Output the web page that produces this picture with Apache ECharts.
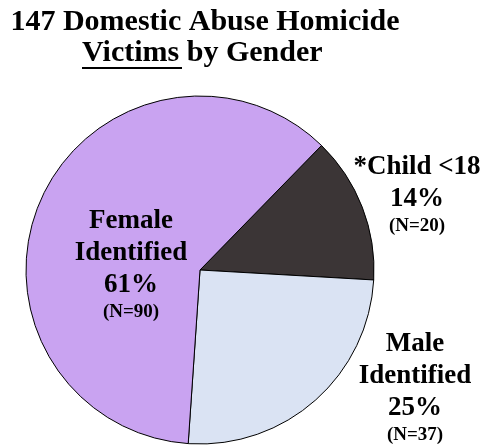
<!DOCTYPE html>
<html>
<head>
<meta charset="utf-8">
<script src="https://cdn.jsdelivr.net/npm/echarts@6/dist/echarts.min.js"></script>
<style>html,body{margin:0;padding:0;background:#fff}#c{width:490px;height:447px}</style>
</head>
<body>
<div id="c"></div>
<script>
var categories = ['*Child <18', 'Male\nIdentified', 'Female\nIdentified'];
var counts = [20, 37, 90];
var colors = ['#3b3536', '#dae3f3', '#c9a3f1'];
var titleLine1 = '147 Domestic Abuse Homicide';
var titleLine2a = 'Victims';
var titleLine2b = ' by Gender';

// label anchor positions (layout only)
var labelPos = [[417, 194], [415, 387], [131, 264]];

var serif = 'Liberation Serif';
var chart = echarts.init(document.getElementById('c'), null, {renderer: 'canvas'});
var data = categories.map(function (c, i) {
  return {name: c, value: counts[i], itemStyle: {color: colors[i]}};
});
chart.setOption({
  animation: false,
  backgroundColor: '#fff',
  textStyle: {fontFamily: serif},
  graphic: [
    {type: 'text', x: 205, y: 22, style: {text: titleLine1, fontFamily: serif, fontWeight: 'bold', fontSize: 30, fill: '#000', align: 'center', verticalAlign: 'middle'}},
    {type: 'text', x: 82, y: 53, style: {text: titleLine2a + titleLine2b, fontFamily: serif, fontWeight: 'bold', fontSize: 30, fill: '#000', align: 'left', verticalAlign: 'middle'}},
    {type: 'line', shape: {x1: 82, y1: 68, x2: 182, y2: 68}, style: {stroke: '#000', lineWidth: 2}}
  ],
  series: [{
    type: 'pie',
    center: [200, 270],
    radius: 174,
    startAngle: 45.7,
    clockwise: true,
    avoidLabelOverlap: false,
    itemStyle: {borderColor: '#000', borderWidth: 1},
    label: {
      show: true,
      position: 'inside',
      fontFamily: serif,
      fontWeight: 'bold',
      fontSize: 27,
      color: '#000',
      formatter: function (p) {
        return '{b|' + p.name.split('\n').join('}\n{b|') + '}\n{b|' + Math.round(p.percent) + '%}\n{s|(N=' + p.value + ')}';
      },
      rich: {
        b: {fontFamily: serif, fontWeight: 'bold', fontSize: 27, lineHeight: 32, color: '#000', align: 'center'},
        s: {fontFamily: serif, fontWeight: 'bold', fontSize: 19, lineHeight: 22, color: '#000', align: 'center'}
      }
    },
    labelLine: {show: false},
    labelLayout: function (params) {
      var p = labelPos[params.dataIndex];
      return {x: p[0], y: p[1], align: 'center', verticalAlign: 'middle'};
    },
    emphasis: {disabled: true},
    data: data
  }]
});
</script>
</body>
</html>
